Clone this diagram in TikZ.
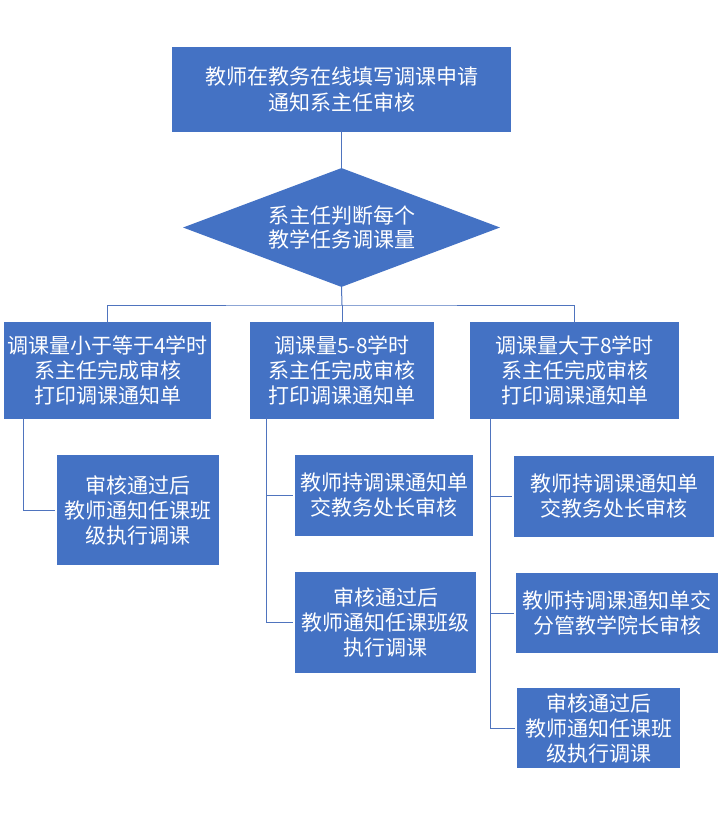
\documentclass[tikz,border=0pt]{standalone}
\usepackage{fontspec}
\setmainfont{Noto Sans CJK SC}
\usetikzlibrary{shapes.geometric}
\definecolor{boxblue}{HTML}{4472C4}
\definecolor{lineblue}{HTML}{4F74BE}
\tikzset{
  box/.style={fill=boxblue, text=white, inner sep=0pt, align=center,
    font=\fontsize{21}{25}\selectfont},
  conn/.style={draw=lineblue, line width=1pt}
}
\begin{document}
\begin{tikzpicture}[x=1pt,y=-1pt]
\useasboundingbox (0,0) rectangle (726,816);
\node[box, minimum width=339pt, minimum height=85pt, font=\fontsize{21}{26}\selectfont] (top) at (341.5,89.5) {教师在教务在线填写调课申请\\通知系主任审核};
\node[box, diamond, aspect=2.66, minimum width=317pt, minimum height=119pt, font=\fontsize{21}{24}\selectfont] (dia) at (341.5,227.5) {系主任判断每个\\教学任务调课量};
\node[box, minimum width=207pt, minimum height=97pt] (A) at (107.5,370.5) {调课量小于等于4学时\\系主任完成审核\\打印调课通知单};
\node[box, minimum width=184pt, minimum height=97pt] (B) at (342,370.5) {调课量5-8学时\\系主任完成审核\\打印调课通知单};
\node[box, minimum width=209pt, minimum height=97pt] (C) at (574.5,370.5) {调课量大于8学时\\系主任完成审核\\打印调课通知单};
\node[box, minimum width=162pt, minimum height=110pt] (A1) at (138,510) {审核通过后\\教师通知任课班\\级执行调课};
\node[box, minimum width=178pt, minimum height=81pt] (B1) at (384,495.5) {教师持调课通知单\\交教务处长审核};
\node[box, minimum width=181pt, minimum height=101pt] (B2) at (385.5,622.5) {审核通过后\\教师通知任课班级\\执行调课};
\node[box, minimum width=200pt, minimum height=81pt] (C1) at (614,496.5) {教师持调课通知单\\交教务处长审核};
\node[box, minimum width=202pt, minimum height=80pt] (C2) at (617,613) {教师持调课通知单交\\分管教学院长审核};
\node[box, minimum width=163pt, minimum height=80pt] (C3) at (598.5,728) {审核通过后\\教师通知任课班\\级执行调课};
\coordinate (bus) at (342,305);
\draw[conn] ([yshift=2pt]top.south) -- (dia.north);
\draw[conn] (dia.south) -- (bus);
\draw[conn] ([yshift=-2pt]A.north) |- (bus) -| ([yshift=-2pt]C.north);
\draw[conn] (bus) -- ([yshift=-2pt]B.north);
\draw[conn] ([xshift=20pt,yshift=2pt]A.south west) |- ([xshift=-2pt]A1.west);
\draw[conn] ([xshift=17pt,yshift=2pt]B.south west) |- ([xshift=-2pt]B1.west);
\draw[conn] ([xshift=17pt,yshift=2pt]B.south west) |- ([xshift=-2pt]B2.west);
\draw[conn] ([xshift=21pt,yshift=2pt]C.south west) |- ([xshift=-2pt]C1.west);
\draw[conn] ([xshift=21pt,yshift=2pt]C.south west) |- ([xshift=-2pt]C2.west);
\draw[conn] ([xshift=21pt,yshift=2pt]C.south west) |- ([xshift=-2pt]C3.west);
\end{tikzpicture}
\end{document}
